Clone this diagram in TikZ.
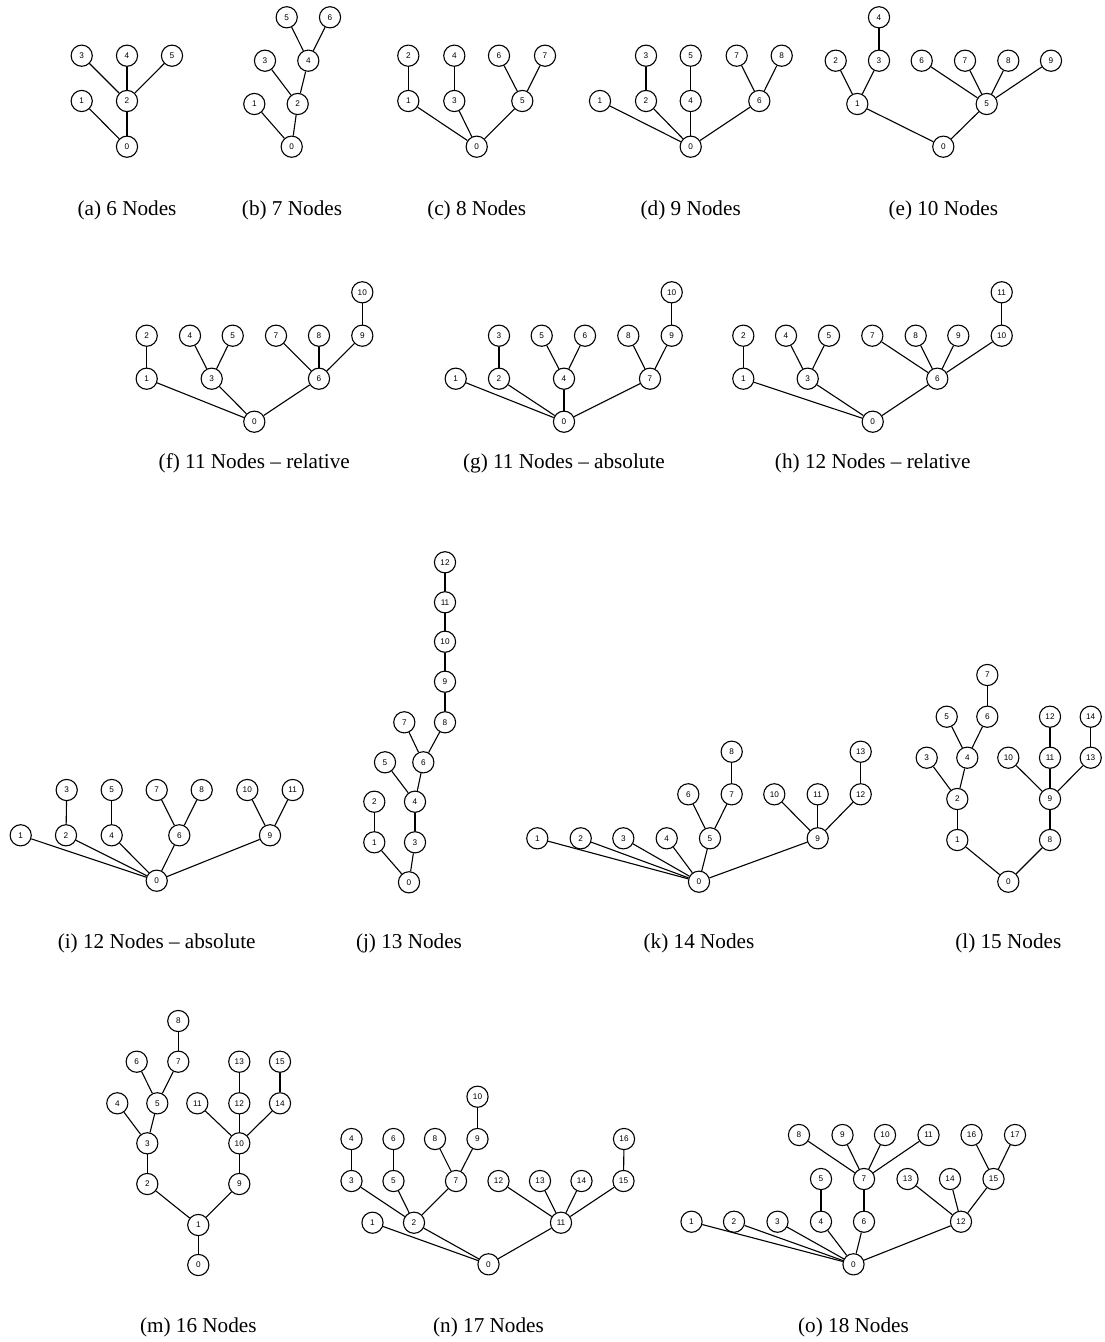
\documentclass[tikz,border=0pt]{standalone}
\usepackage{fontspec}
\setmainfont{Liberation Serif}
\newfontfamily\vtxfont{Liberation Sans}
\tikzset{
  vtx/.style={circle, draw, line width=0.55pt, minimum size=10.6pt, inner sep=0pt,
    font=\vtxfont\fontsize{4.1}{4.5}\selectfont},
  edgeline/.style={line width=0.55pt},
  subcap/.style={font=\fontsize{10.6}{12}\selectfont, anchor=center, inner sep=0pt}
}
\newcommand\mytree[3]{%
  \foreach \n/\px/\py in {#2} {\node[vtx] (#1\n) at (\px,\py) {\n};}
  \foreach \u/\v in {#3} {\draw[edgeline] (#1\u) -- (#1\v);}
}
\begin{document}
\begin{tikzpicture}[x=0.5pt,y=-0.5pt]
\useasboundingbox (0,0) rectangle (1104,1342);
% (a)
\mytree{a}{0/127/146.7, 1/81.7/101, 2/127/101, 3/81.7/55.7, 4/127/55.7, 5/172/55.7}
  {0/1, 0/2, 2/3, 2/4, 2/5}
\node[subcap] (capa) at (127,210) {(a) 6 Nodes};
% (b)
\mytree{b}{0/291.7/146.7, 1/254.3/104, 2/297.7/104, 3/265/60.7, 4/308.3/60.7, 5/286.7/17.3, 6/330/17.3}
  {0/1, 0/2, 2/3, 2/4, 4/5, 4/6}
\node[subcap] (capb) at (292,210) {(b) 7 Nodes};
% (c)
\mytree{c}{0/476.7/146.7, 1/408.3/101, 2/408.3/55.7, 3/454.3/101, 4/454.3/55.7, 5/522.3/101, 6/499/55.7, 7/545/55.7}
  {0/1, 1/2, 0/3, 3/4, 0/5, 5/6, 5/7}
\node[subcap] (capc) at (476.7,210) {(c) 8 Nodes};
% (d)
\mytree{d}{0/690.7/146.7, 1/600/101, 2/646/101, 3/646/55.7, 4/690.7/101, 5/690.7/55.7, 6/759.3/101, 7/736.7/55.7, 8/781.7/55.7}
  {0/1, 0/2, 2/3, 0/4, 4/5, 0/6, 6/7, 6/8}
\node[subcap] (capd) at (690.7,210) {(d) 9 Nodes};
% (e)
\mytree{e}{0/943.3/146.7, 1/857.3/104, 2/835.7/60.7, 3/879/60.7, 4/879/17.3, 5/986.7/104, 6/921.7/60.7, 7/965/60.7, 8/1008.3/60.7, 9/1051/60.7}
  {0/1, 1/2, 1/3, 3/4, 0/5, 5/6, 5/7, 5/8, 5/9}
\node[subcap] (cape) at (943.3,210) {(e) 10 Nodes};
% (f)
\mytree{f}{0/254.3/421.7, 1/146.7/378.7, 2/146.7/335.7, 3/211.7/378.7, 4/190/335.7, 5/232.7/335.7, 6/319/378.7, 7/276/335.7, 8/319/335.7, 9/362.3/335.7, 10/362.3/292.3}
  {0/1, 1/2, 0/3, 3/4, 3/5, 0/6, 6/7, 6/8, 6/9, 9/10}
\node[subcap] (capf) at (254.3,463) {(f) 11 Nodes – relative};
% (g)
\mytree{g}{0/564/421.7, 1/455.7/378.7, 2/499/378.7, 3/499/335.7, 4/564/378.7, 5/541.7/335.7, 6/585/335.7, 7/650/378.7, 8/628.3/335.7, 9/671.7/335.7, 10/671.7/292.3}
  {0/1, 0/2, 2/3, 0/4, 4/5, 4/6, 0/7, 7/8, 7/9, 9/10}
\node[subcap] (capg) at (564,463) {(g) 11 Nodes – absolute};
% (h)
\mytree{h}{0/872.7/421.7, 1/743.3/378.7, 2/743.3/335.7, 3/807.7/378.7, 4/786/335.7, 5/829/335.7, 6/937.3/378.7, 7/872.3/335.7, 8/915.7/335.7, 9/958.3/335.7, 10/1001.7/335.7, 11/1001.7/292.3}
  {0/1, 1/2, 0/3, 3/4, 3/5, 0/6, 6/7, 6/8, 6/9, 6/10, 10/11}
\node[subcap] (caph) at (872.7,463) {(h) 12 Nodes – relative};
% (i)
\mytree{i}{0/156.7/880.7, 1/20.7/835.3, 2/66/835.3, 3/66.7/790, 4/111.7/835.3, 5/111.7/790, 6/179.3/835.3, 7/156.7/790, 8/201.7/790, 9/270/835.3, 10/247.3/790, 11/292.7/790}
  {0/1, 0/2, 2/3, 0/4, 4/5, 0/6, 6/7, 6/8, 0/9, 9/10, 9/11}
\node[subcap] (capi) at (156.7,943) {(i) 12 Nodes – absolute};
% (j)
\mytree{j}{0/409/882.3, 1/374.3/842.3, 2/374.3/801.7, 3/415/842.3, 4/415/801.7, 5/385/762.3, 6/423.3/762.3, 7/404.3/722.3, 8/445/722.3, 9/445/681.7, 10/445/641.7, 11/445/602.3, 12/445/562.3}
  {0/1, 1/2, 0/3, 3/4, 4/5, 4/6, 6/7, 6/8, 8/9, 9/10, 10/11, 11/12}
\node[subcap] (capj) at (409,943) {(j) 13 Nodes};
% (k)
\mytree{k}{0/699/881.7, 1/537.3/838.3, 2/580.7/838.3, 3/623.3/838.3, 4/666.7/838.3, 5/710/838.3, 6/688.3/794.3, 7/731.7/794.3, 8/731.7/751.7, 9/817.7/838.3, 10/774.3/794.3, 11/817.7/794.3, 12/860.7/794.3, 13/860.7/751.7}
  {0/1, 0/2, 0/3, 0/4, 0/5, 5/6, 5/7, 7/8, 0/9, 9/10, 9/11, 9/12, 12/13}
\node[subcap] (capk) at (699,943) {(k) 14 Nodes};
% (l)
\mytree{l}{0/1008.3/881.7, 1/957.3/840, 2/957.3/799, 3/926.7/757.7, 4/967.3/757.7, 5/946.7/716.7, 6/987.3/716.7, 7/987.3/675, 8/1050/840, 9/1050/799, 10/1008.3/757.7, 11/1050/757.7, 12/1050/716.7, 13/1090.7/757.7, 14/1090.7/716.7}
  {0/1, 1/2, 2/3, 2/4, 4/5, 4/6, 6/7, 0/8, 8/9, 9/10, 9/11, 11/12, 9/13, 13/14}
\node[subcap] (capl) at (1008.3,943) {(l) 15 Nodes};
% (m)
\mytree{m}{0/198.3/1265, 1/198.3/1225, 2/147.3/1184, 3/147.3/1143.3, 4/117.3/1103.3, 5/157.3/1103.3, 6/136.7/1061.7, 7/178.3/1061.7, 8/178.3/1021, 9/239.3/1184, 10/239.3/1143.3, 11/197.3/1103.3, 12/239.3/1103.3, 13/239.3/1061.7, 14/280/1103.3, 15/280/1061.7}
  {0/1, 1/2, 2/3, 3/4, 3/5, 5/6, 5/7, 7/8, 1/9, 9/10, 10/11, 10/12, 12/13, 10/14, 14/15}
\node[subcap] (capm) at (198.3,1327) {(m) 16 Nodes};
% (n)
\mytree{n}{0/488.5/1264.3, 1/372.5/1222.7, 2/414/1222.7, 3/351.5/1181, 4/351.5/1139, 5/393.5/1181, 6/393.5/1139, 7/456/1181, 8/435/1139, 9/477.5/1139, 10/477.5/1096.7, 11/561/1222.7, 12/498.5/1181, 13/540/1181, 14/581.5/1181, 15/623.5/1181, 16/624/1139}
  {0/1, 0/2, 2/3, 3/4, 2/5, 5/6, 2/7, 7/8, 7/9, 9/10, 0/11, 11/12, 11/13, 11/14, 11/15, 15/16}
\node[subcap] (capn) at (488.5,1327) {(n) 17 Nodes};
% (o)
\mytree{o}{0/853.5/1264.3, 1/691.5/1221.7, 2/734/1221.7, 3/777.5/1221.7, 4/821/1221.7, 5/821/1179, 6/864/1221.7, 7/864/1179, 8/799/1135, 9/842.5/1135, 10/885/1135, 11/928.5/1135, 12/961/1221.7, 13/907.5/1179, 14/950/1179, 15/993.5/1179, 16/971.5/1135, 17/1015/1135}
  {0/1, 0/2, 0/3, 0/4, 4/5, 0/6, 6/7, 7/8, 7/9, 7/10, 7/11, 0/12, 12/13, 12/14, 12/15, 15/16, 15/17}
\node[subcap] (capo) at (853.5,1327) {(o) 18 Nodes};
\end{tikzpicture}
\end{document}
